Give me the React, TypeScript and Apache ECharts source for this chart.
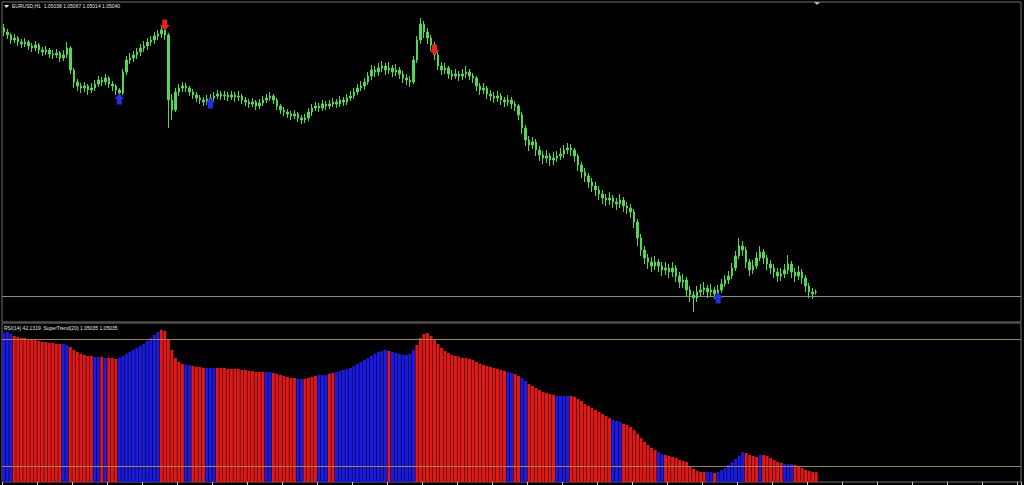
import React, { useEffect, useRef } from "react";
import * as echarts from "echarts";

// ---------- chart texts ----------
const symbolName = "EURUSD,H1";
const lastQuote = ["1.05038", "1.05067", "1.05014", "1.05040"];
const indicatorLabel = "RSI(14) 42.1319  SuperTrend(20) 1.05035 1.05035";

// ---------- price bars (EURUSD H1) ----------
const opens = [
1.0768,1.0764,1.0761,1.0756,1.0758,1.0754,1.0752,1.0754,1.0750,1.0748,
1.0751,1.0746,1.0744,1.0746,1.0742,1.0741,1.0743,1.0738,1.0741,1.0748,
1.0726,1.0714,1.0710,1.0708,1.0710,1.0706,1.0708,1.0712,1.0716,1.0714,
1.0718,1.0712,1.0710,1.0706,1.0703,1.0724,1.0736,1.0738,1.0741,1.0744,
1.0748,1.0750,1.0754,1.0756,1.0760,1.0762,1.0766,1.0761,1.0696,1.0686,
1.0704,1.0708,1.0710,1.0708,1.0704,1.0701,1.0698,1.0696,1.0694,1.0697,
1.0698,1.0700,1.0702,1.0700,1.0701,1.0699,1.0701,1.0699,1.0700,1.0696,
1.0694,1.0692,1.0694,1.0690,1.0693,1.0696,1.0698,1.0700,1.0696,1.0690,
1.0686,1.0684,1.0682,1.0680,1.0682,1.0678,1.0676,1.0678,1.0684,1.0688,
1.0690,1.0688,1.0692,1.0690,1.0692,1.0694,1.0692,1.0696,1.0694,1.0698,
1.0700,1.0704,1.0708,1.0710,1.0714,1.0720,1.0726,1.0724,1.0728,1.0730,
1.0726,1.0728,1.0724,1.0726,1.0722,1.0718,1.0716,1.0714,1.0736,1.0756,
1.0772,1.0764,1.0758,1.0751,1.0741,1.0730,1.0726,1.0728,1.0722,1.0720,
1.0722,1.0720,1.0722,1.0724,1.0720,1.0718,1.0710,1.0706,1.0708,1.0702,
1.0700,1.0698,1.0700,1.0696,1.0694,1.0696,1.0692,1.0690,1.0681,1.0668,
1.0656,1.0651,1.0654,1.0646,1.0641,1.0638,1.0640,1.0636,1.0638,1.0640,
1.0642,1.0646,1.0648,1.0646,1.0640,1.0631,1.0624,1.0620,1.0614,1.0610,
1.0606,1.0602,1.0598,1.0596,1.0598,1.0594,1.0592,1.0596,1.0590,1.0588,
1.0584,1.0574,1.0558,1.0546,1.0538,1.0534,1.0530,1.0534,1.0530,1.0526,
1.0528,1.0524,1.0528,1.0520,1.0514,1.0516,1.0506,1.0501,1.0498,1.0504,
1.0506,1.0508,1.0504,1.0506,1.0502,1.0506,1.0512,1.0516,1.0520,1.0528,
1.0540,1.0550,1.0546,1.0534,1.0526,1.0530,1.0538,1.0544,1.0538,1.0532,
1.0528,1.0524,1.0520,1.0522,1.0526,1.0532,1.0524,1.0520,1.0524,1.0518,
1.0510,1.0504,1.05038];

const highs = [
1.0772,1.0767,1.0763,1.0762,1.0760,1.0757,1.0758,1.0756,1.0753,1.0755,
1.0753,1.0749,1.0750,1.0748,1.0746,1.0747,1.0745,1.0746,1.0754,1.0750,
1.0728,1.0717,1.0713,1.0714,1.0712,1.0713,1.0716,1.0720,1.0719,1.0722,
1.0720,1.0715,1.0712,1.0708,1.0727,1.0740,1.0743,1.0745,1.0748,1.0752,
1.0755,1.0758,1.0760,1.0764,1.0766,1.0770,1.0768,1.0763,1.0702,1.0708,
1.0712,1.0714,1.0713,1.0710,1.0707,1.0704,1.0701,1.0699,1.0701,1.0702,
1.0704,1.0706,1.0705,1.0705,1.0704,1.0705,1.0704,1.0705,1.0702,1.0699,
1.0697,1.0698,1.0696,1.0697,1.0700,1.0702,1.0704,1.0702,1.0698,1.0692,
1.0689,1.0687,1.0685,1.0686,1.0684,1.0681,1.0682,1.0688,1.0692,1.0694,
1.0693,1.0696,1.0695,1.0696,1.0698,1.0697,1.0700,1.0699,1.0702,1.0705,
1.0708,1.0712,1.0715,1.0718,1.0724,1.0731,1.0730,1.0733,1.0735,1.0733,
1.0734,1.0731,1.0732,1.0729,1.0725,1.0722,1.0720,1.0740,1.0760,1.0778,
1.0775,1.0768,1.0761,1.0754,1.0744,1.0734,1.0733,1.0730,1.0726,1.0727,
1.0725,1.0727,1.0730,1.0727,1.0723,1.0720,1.0713,1.0713,1.0710,1.0706,
1.0704,1.0705,1.0703,1.0699,1.0701,1.0699,1.0695,1.0692,1.0684,1.0671,
1.0660,1.0659,1.0657,1.0650,1.0645,1.0646,1.0643,1.0644,1.0645,1.0648,
1.0651,1.0653,1.0652,1.0648,1.0642,1.0634,1.0628,1.0623,1.0618,1.0614,
1.0610,1.0606,1.0602,1.0604,1.0601,1.0598,1.0602,1.0599,1.0594,1.0592,
1.0587,1.0577,1.0562,1.0550,1.0542,1.0539,1.0540,1.0537,1.0534,1.0534,
1.0532,1.0534,1.0531,1.0524,1.0522,1.0519,1.0510,1.0505,1.0510,1.0512,
1.0514,1.0511,1.0512,1.0509,1.0511,1.0517,1.0521,1.0525,1.0533,1.0545,
1.0558,1.0555,1.0549,1.0537,1.0536,1.0544,1.0550,1.0547,1.0541,1.0536,
1.0532,1.0528,1.0528,1.0532,1.0541,1.0535,1.0528,1.0530,1.0527,1.0521,
1.0513,1.0508,1.05067];

const lows = [
1.0760,1.0757,1.0752,1.0753,1.0750,1.0748,1.0749,1.0746,1.0744,1.0745,
1.0742,1.0740,1.0741,1.0738,1.0737,1.0738,1.0734,1.0735,1.0738,1.0722,
1.0708,1.0705,1.0703,1.0704,1.0701,1.0703,1.0705,1.0709,1.0710,1.0711,
1.0708,1.0705,1.0701,1.0698,1.0701,1.0721,1.0732,1.0734,1.0737,1.0740,
1.0744,1.0746,1.0750,1.0752,1.0756,1.0758,1.0756,1.0668,1.0676,1.0684,
1.0700,1.0704,1.0704,1.0700,1.0697,1.0694,1.0692,1.0690,1.0691,1.0695,
1.0695,1.0697,1.0696,1.0696,1.0695,1.0696,1.0694,1.0695,1.0692,1.0690,
1.0688,1.0689,1.0686,1.0687,1.0690,1.0693,1.0695,1.0692,1.0686,1.0682,
1.0680,1.0678,1.0676,1.0677,1.0674,1.0672,1.0673,1.0675,1.0680,1.0685,
1.0684,1.0685,1.0686,1.0687,1.0689,1.0688,1.0689,1.0690,1.0691,1.0695,
1.0697,1.0701,1.0705,1.0706,1.0711,1.0716,1.0719,1.0720,1.0724,1.0721,
1.0722,1.0719,1.0720,1.0717,1.0713,1.0711,1.0709,1.0712,1.0733,1.0752,
1.0758,1.0752,1.0745,1.0736,1.0726,1.0721,1.0722,1.0717,1.0716,1.0717,
1.0715,1.0716,1.0718,1.0716,1.0713,1.0705,1.0701,1.0702,1.0697,1.0695,
1.0693,1.0694,1.0691,1.0689,1.0690,1.0687,1.0685,1.0676,1.0662,1.0650,
1.0645,1.0647,1.0640,1.0635,1.0632,1.0633,1.0630,1.0631,1.0634,1.0636,
1.0638,1.0642,1.0640,1.0634,1.0625,1.0618,1.0614,1.0608,1.0604,1.0600,
1.0596,1.0592,1.0590,1.0591,1.0588,1.0586,1.0588,1.0584,1.0582,1.0578,
1.0568,1.0550,1.0540,1.0532,1.0527,1.0524,1.0526,1.0524,1.0520,1.0521,
1.0518,1.0519,1.0514,1.0508,1.0508,1.0499,1.0494,1.0484,1.0494,1.0499,
1.0501,1.0498,1.0499,1.0497,1.0500,1.0503,1.0509,1.0512,1.0517,1.0525,
1.0537,1.0540,1.0528,1.0520,1.0522,1.0527,1.0535,1.0532,1.0526,1.0522,
1.0518,1.0514,1.0515,1.0518,1.0522,1.0518,1.0514,1.0516,1.0512,1.0504,
1.0498,1.0497,1.05014];

const closes = [
1.0764,1.0761,1.0756,1.0758,1.0754,1.0752,1.0754,1.0750,1.0748,1.0751,
1.0746,1.0744,1.0746,1.0742,1.0741,1.0743,1.0738,1.0741,1.0748,1.0726,
1.0714,1.0710,1.0708,1.0710,1.0706,1.0708,1.0712,1.0716,1.0714,1.0718,
1.0712,1.0710,1.0706,1.0703,1.0724,1.0736,1.0738,1.0741,1.0744,1.0748,
1.0750,1.0754,1.0756,1.0760,1.0762,1.0766,1.0761,1.0696,1.0686,1.0704,
1.0708,1.0710,1.0708,1.0704,1.0701,1.0698,1.0696,1.0694,1.0697,1.0698,
1.0700,1.0702,1.0700,1.0701,1.0699,1.0701,1.0699,1.0700,1.0696,1.0694,
1.0692,1.0694,1.0690,1.0693,1.0696,1.0698,1.0700,1.0696,1.0690,1.0686,
1.0684,1.0682,1.0680,1.0682,1.0678,1.0676,1.0678,1.0684,1.0688,1.0690,
1.0688,1.0692,1.0690,1.0692,1.0694,1.0692,1.0696,1.0694,1.0698,1.0700,
1.0704,1.0708,1.0710,1.0714,1.0720,1.0726,1.0724,1.0728,1.0730,1.0726,
1.0728,1.0724,1.0726,1.0722,1.0718,1.0716,1.0714,1.0736,1.0756,1.0772,
1.0764,1.0758,1.0751,1.0741,1.0730,1.0726,1.0728,1.0722,1.0720,1.0722,
1.0720,1.0722,1.0724,1.0720,1.0718,1.0710,1.0706,1.0708,1.0702,1.0700,
1.0698,1.0700,1.0696,1.0694,1.0696,1.0692,1.0690,1.0681,1.0668,1.0656,
1.0651,1.0654,1.0646,1.0641,1.0638,1.0640,1.0636,1.0638,1.0640,1.0642,
1.0646,1.0648,1.0646,1.0640,1.0631,1.0624,1.0620,1.0614,1.0610,1.0606,
1.0602,1.0598,1.0596,1.0598,1.0594,1.0592,1.0596,1.0590,1.0588,1.0584,
1.0574,1.0558,1.0546,1.0538,1.0534,1.0530,1.0534,1.0530,1.0526,1.0528,
1.0524,1.0528,1.0520,1.0514,1.0516,1.0506,1.0501,1.0498,1.0504,1.0506,
1.0508,1.0504,1.0506,1.0502,1.0506,1.0512,1.0516,1.0520,1.0528,1.0540,
1.0550,1.0546,1.0534,1.0526,1.0530,1.0538,1.0544,1.0538,1.0532,1.0528,
1.0524,1.0520,1.0522,1.0526,1.0532,1.0524,1.0520,1.0524,1.0518,1.0510,
1.0504,1.0502,1.05040];

const bidPrice = 1.0504;

// signal arrows: [bar index, price]
const buyArrows = [[33, 1.0697], [59, 1.0693], [204, 1.0498]];
const sellArrows = [[46, 1.0771], [123, 1.0746]];

// ---------- SuperTrend histogram (lower window) ----------
const superTrend = [
1.0782,1.0784,1.0780,1.0776,1.0774,1.0772,1.0772,1.0770,1.0768,1.0768,
1.0766,1.0764,1.0764,1.0762,1.0762,1.0760,1.0760,1.0760,1.0758,1.0754,
1.0748,1.0744,1.0740,1.0738,1.0736,1.0736,1.0734,1.0734,1.0734,1.0732,
1.0732,1.0732,1.0730,1.0732,1.0736,1.0740,1.0744,1.0748,1.0752,1.0756,
1.0760,1.0766,1.0772,1.0778,1.0784,1.0788,1.0786,1.0768,1.0748,1.0732,
1.0724,1.0720,1.0718,1.0718,1.0716,1.0714,1.0714,1.0712,1.0712,1.0712,
1.0712,1.0712,1.0712,1.0712,1.0710,1.0710,1.0710,1.0710,1.0708,1.0708,
1.0706,1.0706,1.0704,1.0704,1.0704,1.0704,1.0704,1.0702,1.0700,1.0698,
1.0696,1.0694,1.0692,1.0692,1.0690,1.0690,1.0690,1.0692,1.0694,1.0696,
1.0698,1.0698,1.0698,1.0700,1.0702,1.0704,1.0706,1.0708,1.0710,1.0712,
1.0716,1.0720,1.0724,1.0728,1.0732,1.0736,1.0740,1.0744,1.0746,1.0748,
1.0746,1.0744,1.0742,1.0740,1.0738,1.0738,1.0740,1.0748,1.0758,1.0772,
1.0780,1.0782,1.0776,1.0768,1.0760,1.0752,1.0746,1.0742,1.0738,1.0736,
1.0734,1.0732,1.0732,1.0730,1.0728,1.0724,1.0720,1.0718,1.0716,1.0714,
1.0712,1.0710,1.0708,1.0706,1.0704,1.0702,1.0700,1.0696,1.0692,1.0686,
1.0680,1.0676,1.0672,1.0668,1.0664,1.0662,1.0660,1.0658,1.0656,1.0656,
1.0656,1.0656,1.0656,1.0654,1.0650,1.0646,1.0640,1.0636,1.0632,1.0628,
1.0624,1.0620,1.0616,1.0612,1.0608,1.0606,1.0604,1.0600,1.0598,1.0594,
1.0588,1.0580,1.0572,1.0564,1.0558,1.0552,1.0548,1.0544,1.0540,1.0538,
1.0536,1.0534,1.0532,1.0528,1.0526,1.0524,1.0516,1.0510,1.0506,1.0504,
1.0504,1.0504,1.0504,1.0502,1.0504,1.0508,1.0512,1.0518,1.0524,1.0530,
1.0536,1.0544,1.0542,1.0538,1.0536,1.0534,1.0538,1.0538,1.0536,1.0532,
1.0528,1.0524,1.0522,1.0520,1.0520,1.0520,1.0518,1.0516,1.0512,1.0508,
1.0506,1.0504,1.05035];

// trend runs: [direction (1 up / -1 down), number of bars]
const trendRuns = [
[1,3],[-1,14],[1,2],[-1,7],[1,2],[-1,1],[1,1],[-1,3],[1,12],[-1,7],
[1,2],[-1,4],[1,3],[-1,14],[1,2],[-1,7],[1,2],[-1,4],[1,3],[-1,2],
[1,15],[-1,1],[1,7],[-1,26],[1,2],[-1,2],[1,2],[-1,8],[1,4],[-1,12],
[1,3],[-1,10],[1,2],[-1,12],[1,2],[-1,1],[1,8],[-1,4],[1,1],[-1,6],
[1,3],[-1,7]];

const rsiLevels = [70, 30];

// total bar slots visible on the time axis (data + right-side shift space)
const slotCount = 291;

export default function App() {
  const ref = useRef<HTMLDivElement>(null);

  useEffect(() => {
    document.body.style.margin = "0";
    document.body.style.background = "#000";
    const el = ref.current;
    if (!el) return;
    const chart = echarts.init(el, null, { renderer: "svg" });

    const categories = Array.from({ length: slotCount }, (_, i) => String(i));
    const trend: number[] = [];
    trendRuns.forEach(([d, n]) => {
      for (let k = 0; k < n; k++) trend.push(d);
    });

    const GREEN = "#52d852";
    const RED = "#e01818";
    const BLUE = "#1a1ae0";
    const BORDER = "#6e6e6e";

    const ohlc = opens.map((o, i) => [o, closes[i], lows[i], highs[i]]);
    const histData = superTrend.map((v, i) => ({
      value: v,
      itemStyle: { color: trend[i] > 0 ? BLUE : RED },
    }));

    const font = "Liberation Sans";

    chart.setOption({
      animation: false,
      backgroundColor: "#000000",
      grid: [
        { left: 2, top: 2, width: 1019, height: 320, show: true, borderColor: BORDER, borderWidth: 1, backgroundColor: "transparent" },
        { left: 2, top: 323, width: 1019, height: 159, show: true, borderColor: BORDER, borderWidth: 1, backgroundColor: "transparent" },
      ],
      xAxis: [
        {
          type: "category", gridIndex: 0, data: categories, boundaryGap: true,
          axisLine: { show: false }, axisTick: { show: false }, axisLabel: { show: false }, splitLine: { show: false },
        },
        {
          type: "category", gridIndex: 1, data: categories, boundaryGap: true,
          axisLine: { show: false },
          axisTick: { show: true, interval: 9, length: 3, lineStyle: { color: "#c8c8c8", width: 1 } },
          axisLabel: { show: false }, splitLine: { show: false },
        },
      ],
      yAxis: [
        { type: "value", gridIndex: 0, min: 1.0474, max: 1.0794, show: false, splitLine: { show: false } },
        { type: "value", gridIndex: 1, min: 1.0484, max: 1.0802, show: false, splitLine: { show: false } },
        { type: "value", gridIndex: 1, min: 24.96, max: 75.04, show: false, position: "right", splitLine: { show: false } },
      ],
      series: [
        {
          type: "candlestick",
          name: symbolName,
          xAxisIndex: 0,
          yAxisIndex: 0,
          data: ohlc,
          barWidth: 2,
          clip: true,
          itemStyle: { color: GREEN, color0: GREEN, borderColor: GREEN, borderColor0: GREEN, borderWidth: 1 },
          markLine: {
            silent: true,
            symbol: "none",
            label: { show: false },
            lineStyle: { color: "#8c8c8c", width: 1, type: "solid" },
            data: [{ yAxis: bidPrice }],
            z: 1,
          },
        },
        {
          type: "scatter",
          xAxisIndex: 0,
          yAxisIndex: 0,
          data: buyArrows,
          symbol: "path://M5,0L10,5L7.5,5L7.5,10L2.5,10L2.5,5L0,5Z",
          symbolSize: [10, 11],
          itemStyle: { color: "#2a2ae8", opacity: 1 },
          z: 5,
        },
        {
          type: "scatter",
          xAxisIndex: 0,
          yAxisIndex: 0,
          data: sellArrows,
          symbol: "path://M2.5,0L7.5,0L7.5,5L10,5L5,10L0,5L2.5,5Z",
          symbolSize: [10, 11],
          itemStyle: { color: "#e82222", opacity: 1 },
          z: 5,
        },
        {
          type: "bar",
          name: "SuperTrend(20)",
          xAxisIndex: 1,
          yAxisIndex: 1,
          data: histData,
          barWidth: 3,
          clip: true,
        },
        {
          type: "line",
          name: "RSI(14)",
          xAxisIndex: 1,
          yAxisIndex: 2,
          data: [],
          showSymbol: false,
          markLine: {
            silent: true,
            symbol: "none",
            label: { show: false },
            lineStyle: { color: "#9c8748", width: 1, type: "solid" },
            data: rsiLevels.map((v) => ({ yAxis: v })),
          },
          z: 6,
        },
      ],
      graphic: [
        { type: "polygon", shape: { points: [[4, 5], [9, 5], [6.5, 8]] }, style: { fill: "#e0e0e0" } },
        {
          type: "text", x: 12, y: 3,
          style: { text: `${symbolName}  ${lastQuote.join(" ")}`, fill: "#e6e6e6", fontSize: 5, fontFamily: font },
        },
        {
          type: "text", x: 4, y: 325,
          style: { text: indicatorLabel, fill: "#e6e6e6", fontSize: 5, fontFamily: font },
        },
        { type: "polygon", shape: { points: [[814, 2], [820, 2], [817, 5]] }, style: { fill: "#b4b4b4" } },
      ],
    });

    return () => chart.dispose();
  }, []);

  return (
    <div
      ref={ref}
      style={{ position: "fixed", left: 0, top: 0, width: 1024, height: 485, background: "#000" }}
    />
  );
}
